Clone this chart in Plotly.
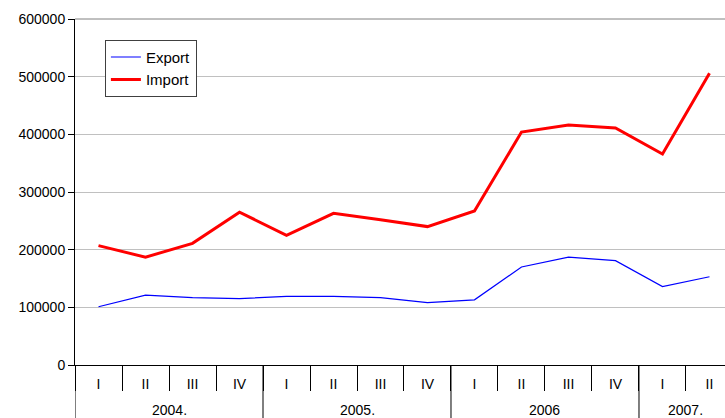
import plotly.graph_objects as go

years = ["2004.", "2005.", "2006", "2007."]
year_lengths = [4, 4, 4, 2]
quarters = ["I", "II", "III", "IV", "I", "II", "III", "IV",
            "I", "II", "III", "IV", "I", "II"]
export_vals = [101000, 121000, 117000, 115000, 119000, 119000, 117000,
               108000, 113000, 170000, 187000, 181000, 136000, 153000]
import_vals = [207000, 187000, 211000, 265000, 225000, 263000, 252000,
               240000, 267000, 404000, 416000, 411000, 366000, 506000]
y_ticks = [0, 100000, 200000, 300000, 400000, 500000, 600000]

# unique category keys, one per quarter
cats = []
for yr, n in zip(years, year_lengths):
    for q in quarters[len(cats):len(cats) + n]:
        cats.append(f"{yr} {q}")

fig = go.Figure()
fig.add_trace(go.Scatter(x=cats, y=export_vals, mode="lines",
                         name="Export", line=dict(color="#0000ff", width=1.2)))
fig.add_trace(go.Scatter(x=cats, y=import_vals, mode="lines",
                         name="Import", line=dict(color="#ff0000", width=3)))

font = dict(family="Liberation Sans, Arial, sans-serif", size=14, color="#000000")
fig.update_layout(
    width=725, height=418,
    margin=dict(l=75, r=0, t=19, b=53, autoexpand=False),
    paper_bgcolor="white", plot_bgcolor="white",
    font=font,
    showlegend=True,
    legend=dict(x=0.046, y=0.94, xanchor="left", yanchor="top",
                bordercolor="#404040", borderwidth=1, bgcolor="white",
                font=dict(size=15), tracegroupgap=0, itemwidth=30),
    xaxis=dict(type="category", categoryorder="array", categoryarray=cats,
               range=[-0.5, 13.33], automargin=False,
               tickvals=cats, ticktext=quarters, tickson="boundaries",
               showline=True, linecolor="black", linewidth=1,
               ticks="outside", ticklen=25, tickcolor="black",
               ticklabelstandoff=6,
               showgrid=False, tickfont=font),
    yaxis=dict(range=[0, 600000], tickvals=y_ticks,
               ticktext=[str(v) for v in y_ticks], automargin=False,
               showline=True, linecolor="black", linewidth=1,
               ticks="outside", ticklen=6, tickcolor="black",
               showgrid=True, gridcolor="#c0c0c0", gridwidth=1,
               zeroline=False, tickfont=font),
)
fig.add_shape(type="line", xref="paper", yref="paper", x0=0, x1=1, y0=1, y1=1,
              line=dict(color="#808080", width=1))

# year group labels and dividers below the quarter labels
start = 0
for yr, n in zip(years, year_lengths):
    fig.add_shape(type="line", xref="x", yref="paper",
                  x0=start - 0.5, x1=start - 0.5, y0=0, y1=-0.2,
                  line=dict(color="black", width=1))
    fig.add_annotation(x=start + (n - 1) / 2, xref="x", y=-0.13, yref="paper",
                       yanchor="middle", text=yr, showarrow=False, font=font)
    start += n
fig.write_html("out.html", config={"displayModeBar": False},
               post_script="document.body.style.margin='0px';document.body.style.overflow='hidden';")
